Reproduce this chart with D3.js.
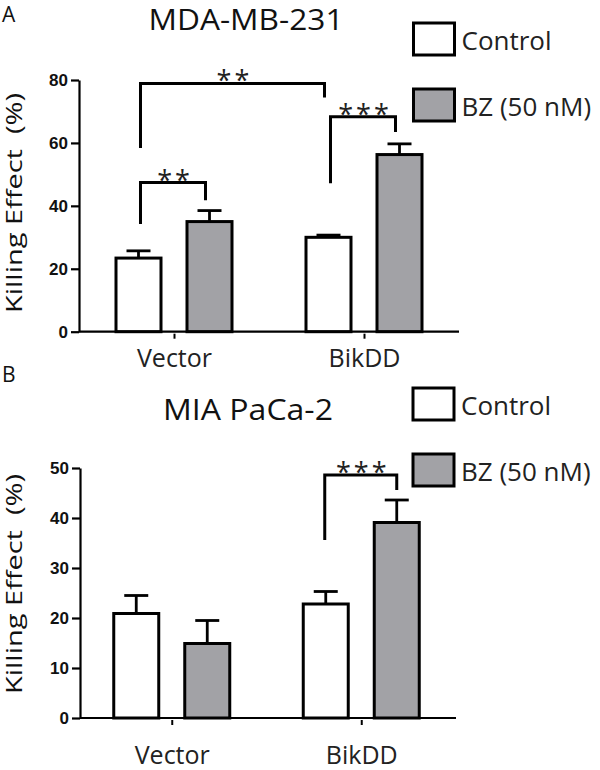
<!DOCTYPE html>
<html><head><meta charset="utf-8">
<script src="https://cdn.jsdelivr.net/npm/d3@7"></script>
<style>body{margin:0;background:#fff}svg{display:block}</style>
</head><body>
<svg id="c" width="600" height="770"></svg>
<script>
const groups = ["Vector", "BikDD"];
const seriesNames = ["Control", "BZ (50 nM)"];
const titleA = "MDA-MB-231";
const titleB = "MIA PaCa-2";
const controlA = [23.4, 30.0];
const controlAErr = [2.3, 0.7];
const bzA = [35.0, 56.3];
const bzAErr = [3.5, 3.4];
const ticksA = [0, 20, 40, 60, 80];
const controlB = [20.9, 22.8];
const controlBErr = [3.6, 2.5];
const bzB = [14.9, 39.1];
const bzBErr = [4.6, 4.5];
const ticksB = [0, 10, 20, 30, 40, 50];
// significance brackets: [group1, series1, group2, series2, barY, leftLegBottom, rightLegBottom, label]
const sigA = [
  [0, 0, 1, 0, 78.9, 58.4, 74.4, "**"],
  [0, 0, 0, 1, 47.4, 34.2, 41.8, "**"],
  [1, 0, 1, 1, 68.3, 47.2, 63.5, "***"]
];
const sigB = [
  [1, 0, 1, 1, 48.6, 35.6, 45.6, "***"]
];

const svg = d3.select("#c");
const font = "'Open Sans', sans-serif";
const fills = ["#ffffff", "#a2a2a6"];

function panel(o) {
  const g = svg.append("g");
  const y = d3.scaleLinear().domain([0, o.ticks[o.ticks.length-1]]).range([o.y0, o.y1]);
  const x = d3.scalePoint().domain(groups).range([o.px0, o.px1]).padding(0.5);
  const xs = d3.scaleBand().domain([0, 1]).range([-59.5, 59.5]).paddingInner(0.324);

  // y axis
  const ya = g.append("g").attr("transform", `translate(${o.x0},0)`)
    .call(d3.axisLeft(y).tickValues(o.ticks).tickSize(8).tickSizeOuter(0).tickPadding(3));
  ya.select(".domain").attr("stroke", "#000").attr("stroke-width", 2.2);
  ya.selectAll(".tick line").attr("stroke", "#000").attr("stroke-width", 2.2);
  ya.selectAll(".tick text").attr("font-family", "'Liberation Sans', Arial, sans-serif")
    .attr("font-weight", "bold").attr("font-size", 17).attr("fill", "#111");

  // bars
  const series = [[o.c, o.cErr], [o.b, o.bErr]];
  series.forEach((s, si) => {
    groups.forEach((grp, gi) => {
      const bx = x(grp) + xs(si);
      const bw = xs.bandwidth();
      const cx = bx + bw / 2;
      const top = s[0][gi] + s[1][gi];
      g.append("line").attr("x1", cx).attr("x2", cx).attr("y1", y(s[0][gi])).attr("y2", y(top))
        .attr("stroke", "#000").attr("stroke-width", 2.8);
      g.append("line").attr("x1", cx - bw * 0.25).attr("x2", cx + bw * 0.25)
        .attr("y1", y(top)).attr("y2", y(top))
        .attr("stroke", "#000").attr("stroke-width", 2.8);
      g.append("rect").attr("x", bx + 1.5).attr("width", bw - 3)
        .attr("y", y(s[0][gi])).attr("height", y(0) - y(s[0][gi]))
        .attr("fill", fills[si]).attr("stroke", "#000").attr("stroke-width", 3);
    });
  });

  // x axis
  const xa = g.append("g").attr("transform", `translate(0,${o.y0})`)
    .call(d3.axisBottom(x).tickSize(0).tickSizeOuter(0).tickPadding(0));
  xa.select(".domain").attr("d", `M${o.x0},0H${o.x1}`).attr("stroke", "#000").attr("stroke-width", 2.2);
  xa.selectAll(".tick line").attr("stroke", "#000").attr("stroke-width", 2).attr("y1", 2).attr("y2", 7);
  xa.selectAll(".tick text").attr("font-family", font).attr("font-size", 25).attr("fill", "#222")
    .attr("dy", null).attr("y", o.xly);

  // brackets
  o.sig.forEach(s => {
    const xl = x(groups[s[0]]) + xs(s[1]) + xs.bandwidth() / 2 + o.brOff[0];
    const xr = x(groups[s[2]]) + xs(s[3]) + xs.bandwidth() / 2 + o.brOff[1];
    g.append("path")
      .attr("d", `M${xl},${y(s[5])}V${y(s[4])}H${xr}V${y(s[6])}`)
      .attr("fill", "none").attr("stroke", "#000").attr("stroke-width", 3);
    g.append("text").attr("x", (xl + xr) / 2 + 2).attr("y", y(s[4]) + 7)
      .attr("text-anchor", "middle").attr("font-family", font)
      .attr("font-size", 27).attr("letter-spacing", 3).attr("fill", "#222").text(s[7]);
  });

  // title
  g.append("text").attr("x", o.tx - o.tw / 2).attr("y", o.ty)
    .attr("font-family", font).attr("font-size", 30).attr("fill", "#111")
    .attr("textLength", o.tw).attr("lengthAdjust", "spacingAndGlyphs").text(o.title);
  g.append("text").attr("x", 2).attr("y", o.ly).attr("font-family", font)
    .attr("font-size", 21).attr("fill", "#111").text(o.letter);

  // y label
  g.append("text").attr("transform", `translate(${o.yl[0]},${o.yl[1] + 110}) rotate(-90)`)
    .attr("font-family", font).attr("font-size", 22)
    .attr("textLength", 220).attr("lengthAdjust", "spacingAndGlyphs")
    .attr("fill", "#111").attr("xml:space", "preserve").text("Killing Effect  (%)");

  // legend
  seriesNames.forEach((n, i) => {
    const ly = o.lg[1] + i * o.lg[2];
    g.append("rect").attr("x", o.lg[0]).attr("y", ly).attr("width", 41).attr("height", 32)
      .attr("fill", fills[i]).attr("stroke", "#000").attr("stroke-width", 3);
    g.append("text").attr("x", o.lg[0] + 48).attr("y", ly + 27)
      .attr("font-family", font).attr("font-size", 26).attr("fill", "#222").text(n);
  });
}

panel({x0: 79, x1: 459, px0: 79, px1: 459, y0: 331.7, y1: 80, ticks: ticksA, c: controlA, cErr: controlAErr, b: bzA, bErr: bzAErr,
  sig: sigA, brOff: [2, -4], title: titleA, tx: 246, tw: 195, ty: 30, letter: "A", ly: 22, yl: [22, 203], lg: [413.5, 23, 66], xly: 35});
panel({x0: 80, x1: 456, px0: 77, px1: 456, y0: 718, y1: 468, ticks: ticksB, c: controlB, cErr: controlBErr, b: bzB, bErr: bzBErr,
  sig: sigB, brOff: [-1, 0], title: titleB, tx: 248, tw: 170, ty: 420, letter: "B", ly: 382, yl: [22, 584], lg: [413, 388, 66], xly: 46});
</script>
</body></html>
